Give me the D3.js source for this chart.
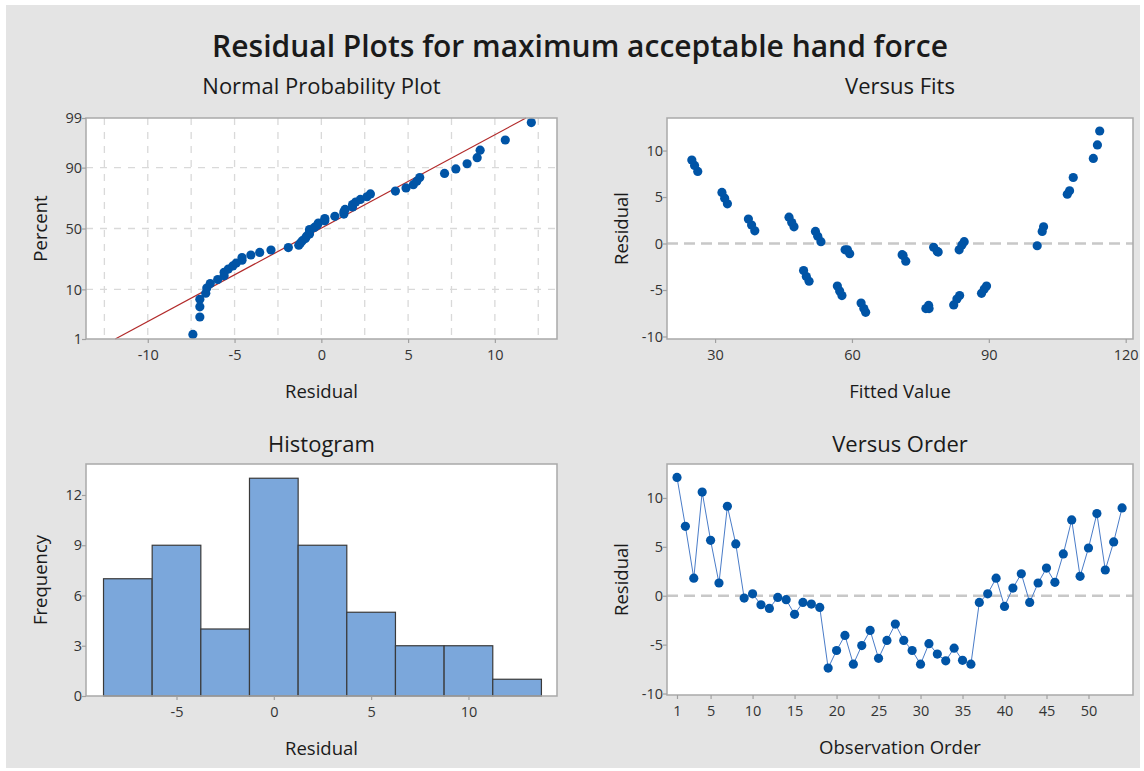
<!DOCTYPE html>
<html>
<head>
<meta charset="utf-8">
<script src="https://cdn.jsdelivr.net/npm/d3@7"></script>
<style>
  html, body { margin: 0; padding: 0; background: #fff; }
  svg { display: block; font-family: "Open Sans", "Noto Sans", sans-serif; }
</style>
</head>
<body>
<div id="chart"></div>
<script>
// residuals in observation order
const residuals = [12.1, 7.1, 1.8, 10.6, 5.67, 1.3, 9.15, 5.3, -0.24,
  0.2, -0.92, -1.3, -0.17, -0.4, -1.9, -0.68, -0.85, -1.2,
  -7.4, -5.6, -4.06, -7.0, -5.1, -3.55, -6.4, -4.57, -2.9,
  -4.57, -5.6, -7.0, -4.9, -5.97, -6.66, -5.36, -6.6, -7.0,
  -0.68, 0.2, 1.8, -1.09, 0.78, 2.25, -0.68, 1.3, 2.83,
  1.37, 4.27, 7.75, 1.98, 4.88, 8.4, 2.63, 5.5, 8.98];

// fitted values, same order
const fitted = [114.3, 108.5, 102.0, 113.8, 107.7, 101.7, 112.9, 107.2, 100.6,
  84.6, 78.9, 71.2, 84.1, 77.9, 71.8, 83.5, 78.7, 71.0,
  63.0, 57.8, 50.6, 62.6, 57.3, 50.0, 62.0, 56.8, 49.4,
  89.5, 83.6, 76.2, 89.0, 83.0, 76.8, 88.4, 82.3, 76.9,
  58.5, 53.2, 47.3, 59.5, 52.5, 46.8, 59.0, 52.0, 46.2,
  38.7, 32.7, 26.2, 38.0, 32.1, 25.5, 37.3, 31.5, 24.9];

const binEdges = [-8.75, -6.25, -3.75, -1.25, 1.25, 3.75, 6.25, 8.75, 11.25, 13.75];
const percentTicks = [1, 10, 50, 90, 99];
const percentGrid = [10, 50, 90];
const residTicks = [-10, -5, 0, 5, 10];
const histXTicks = [-5, 0, 5, 10];
const freqTicks = [0, 3, 6, 9, 12];
const fitTicks = [30, 60, 90, 120];
const orderTicks = [1, 5, 10, 15, 20, 25, 30, 35, 40, 45, 50];

const mainTitle = 'Residual Plots for maximum acceptable hand force';

const W = 1144, H = 771;
const dotColor = '#0054a6';
const plain = d => String(d); // hyphen minus like the original

// inverse normal cdf (Acklam)
function qnorm(p) {
  const a = [-39.69683028665376, 220.9460984245205, -275.9285104469687, 138.3577518672690, -30.66479806614716, 2.506628277459239];
  const b = [-54.47609879822406, 161.5858368580409, -155.6989798598866, 66.80131188771972, -13.28068155288572];
  const c = [-0.007784894002430293, -0.3223964580411365, -2.400758277161838, -2.549732539343734, 4.374664141464968, 2.938163982698783];
  const d = [0.007784695709041462, 0.3224671290700398, 2.445134137142996, 3.754408661907416];
  const pl = 0.02425;
  let q, r;
  if (p < pl) {
    q = Math.sqrt(-2 * Math.log(p));
    return (((((c[0]*q+c[1])*q+c[2])*q+c[3])*q+c[4])*q+c[5]) / ((((d[0]*q+d[1])*q+d[2])*q+d[3])*q+1);
  }
  if (p > 1 - pl) {
    q = Math.sqrt(-2 * Math.log(1 - p));
    return -(((((c[0]*q+c[1])*q+c[2])*q+c[3])*q+c[4])*q+c[5]) / ((((d[0]*q+d[1])*q+d[2])*q+d[3])*q+1);
  }
  q = p - 0.5; r = q * q;
  return (((((a[0]*r+a[1])*r+a[2])*r+a[3])*r+a[4])*r+a[5])*q / (((((b[0]*r+b[1])*r+b[2])*r+b[3])*r+b[4])*r+1);
}

const svg = d3.select('#chart').append('svg')
  .attr('width', W)
  .attr('height', H);

svg.append('rect')
  .attr('x', 6).attr('y', 5)
  .attr('width', 1134).attr('height', 763)
  .attr('fill', '#e4e4e4');

svg.append('text')
  .attr('x', 580).attr('y', 57)
  .attr('text-anchor', 'middle')
  .style('font-size', '30px')
  .style('font-weight', 600)
  .style('fill', '#1a1a1a')
  .text(mainTitle);

const boxes = {
  npp:   { x0: 86,  x1: 557,  y0: 118, y1: 339 },
  fits:  { x0: 667, x1: 1133, y0: 118, y1: 339 },
  hist:  { x0: 86,  x1: 557,  y0: 464, y1: 696 },
  order: { x0: 667, x1: 1133, y0: 464, y1: 695 }
};

function frame(b, title, titleY, xLabel, yLabel) {
  svg.append('rect')
    .attr('x', b.x0).attr('y', b.y0)
    .attr('width', b.x1 - b.x0).attr('height', b.y1 - b.y0)
    .attr('fill', '#fff');
  const cx = (b.x0 + b.x1) / 2;
  svg.append('text')
    .attr('x', cx).attr('y', titleY)
    .attr('text-anchor', 'middle')
    .style('font-size', '22px')
    .style('fill', '#1a1a1a')
    .text(title);
  svg.append('text')
    .attr('x', cx).attr('y', b.y1 + 59)
    .attr('text-anchor', 'middle')
    .style('font-size', '18.5px')
    .style('fill', '#1a1a1a')
    .text(xLabel);
  svg.append('text')
    .attr('transform', `translate(${b.x0 - 39},${(b.y0 + b.y1) / 2}) rotate(-90)`)
    .attr('text-anchor', 'middle')
    .style('font-size', '18.5px')
    .style('fill', '#1a1a1a')
    .text(yLabel);
}

function border(b) {
  svg.append('rect')
    .attr('x', b.x0).attr('y', b.y0)
    .attr('width', b.x1 - b.x0).attr('height', b.y1 - b.y0)
    .attr('fill', 'none')
    .attr('stroke', '#a9a9a9')
    .attr('stroke-width', 1.5);
}

function styleAxis(g) {
  g.select('.domain').remove();
  g.selectAll('.tick line').attr('stroke', '#a0a0a0').attr('stroke-width', 1.2);
  g.selectAll('.tick text')
    .style('font-size', '14.5px')
    .style('font-family', '"Open Sans", "Noto Sans", sans-serif')
    .attr('fill', '#333');
}

function axes(b, x, y, xt, yt) {
  svg.append('g')
    .attr('transform', `translate(0,${b.y1})`)
    .call(d3.axisBottom(x).tickValues(xt).tickSize(4).tickPadding(7).tickFormat(plain))
    .call(styleAxis);
  svg.append('g')
    .attr('transform', `translate(${b.x0},0)`)
    .call(d3.axisLeft(y).tickValues(yt).tickSize(4).tickPadding(0).tickFormat(plain))
    .call(styleAxis);
}

function zeroLine(b, y) {
  svg.append('line')
    .attr('x1', b.x0).attr('x2', b.x1)
    .attr('y1', y(0)).attr('y2', y(0))
    .attr('stroke', '#c8c8c8')
    .attr('stroke-width', 2.5)
    .attr('stroke-dasharray', '11,6');
}

// ---------- Normal Probability Plot ----------
{
  const b = boxes.npp;
  frame(b, 'Normal Probability Plot', 94, 'Residual', 'Percent');
  const x = d3.scaleLinear().domain([-13.56, 13.58]).range([b.x0, b.x1]);
  const y = d3.scaleLinear().domain([qnorm(0.01), qnorm(0.99)]).range([b.y1, b.y0]);

  svg.append('g').selectAll('line')
    .data(d3.range(-12.5, 12.6, 2.5))
    .enter().append('line')
    .attr('x1', d => x(d)).attr('x2', d => x(d))
    .attr('y1', b.y0).attr('y2', b.y1)
    .attr('stroke', '#d9d9d9').attr('stroke-width', 1.3)
    .attr('stroke-dasharray', '7,7');
  svg.append('g').selectAll('line')
    .data(percentGrid)
    .enter().append('line')
    .attr('x1', b.x0).attr('x2', b.x1)
    .attr('y1', d => y(qnorm(d / 100))).attr('y2', d => y(qnorm(d / 100)))
    .attr('stroke', '#d9d9d9').attr('stroke-width', 1.3)
    .attr('stroke-dasharray', '7,7');

  const mean = d3.mean(residuals);
  const sd = d3.deviation(residuals);
  svg.append('line')
    .attr('x1', x(mean + sd * qnorm(0.01))).attr('y1', y(qnorm(0.01)))
    .attr('x2', x(mean + sd * qnorm(0.99))).attr('y2', y(qnorm(0.99)))
    .attr('stroke', '#b22a2a')
    .attr('stroke-width', 1.2);

  const n = residuals.length;
  const sorted = residuals.slice().sort(d3.ascending);
  svg.append('g').selectAll('circle')
    .data(sorted)
    .enter().append('circle')
    .attr('cx', d => x(d))
    .attr('cy', (d, i) => y(qnorm((i + 1 - 0.3) / (n + 0.4))))
    .attr('r', 4.6)
    .attr('fill', dotColor);

  border(b);
  svg.append('g')
    .attr('transform', `translate(0,${b.y1})`)
    .call(d3.axisBottom(x).tickValues(residTicks).tickSize(4).tickPadding(7).tickFormat(plain))
    .call(styleAxis);
  svg.append('g')
    .attr('transform', `translate(${b.x0},0)`)
    .call(d3.axisLeft(y).tickValues(percentTicks.map(p => qnorm(p / 100))).tickSize(4).tickPadding(0)
      .tickFormat((d, i) => percentTicks[i]))
    .call(styleAxis);
}

// ---------- Versus Fits ----------
{
  const b = boxes.fits;
  frame(b, 'Versus Fits', 94, 'Fitted Value', 'Residual');
  const x = d3.scaleLinear().domain([19.46, 121.6]).range([b.x0, b.x1]);
  const y = d3.scaleLinear().domain([-10.27, 13.5]).range([b.y1, b.y0]);
  zeroLine(b, y);
  svg.append('g').selectAll('circle')
    .data(fitted)
    .enter().append('circle')
    .attr('cx', d => x(d))
    .attr('cy', (d, i) => y(residuals[i]))
    .attr('r', 4.6)
    .attr('fill', dotColor);
  border(b);
  axes(b, x, y, fitTicks, residTicks);
}

// ---------- Histogram ----------
{
  const b = boxes.hist;
  frame(b, 'Histogram', 452, 'Residual', 'Frequency');
  const x = d3.scaleLinear().domain([-9.65, 14.55]).range([b.x0, b.x1]);
  const y = d3.scaleLinear().domain([0, 13.85]).range([b.y1, b.y0]);
  const bins = d3.bin()
    .domain([binEdges[0], binEdges[binEdges.length - 1]])
    .thresholds(binEdges.slice(1, -1))(residuals);
  svg.append('g').selectAll('rect')
    .data(bins)
    .enter().append('rect')
    .attr('x', d => x(d.x0))
    .attr('y', d => y(d.length))
    .attr('width', d => x(d.x1) - x(d.x0))
    .attr('height', d => y(0) - y(d.length))
    .attr('fill', '#7ba7db')
    .attr('stroke', '#3a3a3a')
    .attr('stroke-width', 1.2);
  border(b);
  axes(b, x, y, histXTicks, freqTicks);
}

// ---------- Versus Order ----------
{
  const b = boxes.order;
  frame(b, 'Versus Order', 452, 'Observation Order', 'Residual');
  const x = d3.scaleLinear().domain([-0.19, 55.3]).range([b.x0, b.x1]);
  const y = d3.scaleLinear().domain([-10.15, 13.47]).range([b.y1, b.y0]);
  zeroLine(b, y);
  const line = d3.line()
    .x((d, i) => x(i + 1))
    .y(d => y(d));
  svg.append('path')
    .datum(residuals)
    .attr('d', line)
    .attr('fill', 'none')
    .attr('stroke', '#4a7cc8')
    .attr('stroke-width', 1);
  svg.append('g').selectAll('circle')
    .data(residuals)
    .enter().append('circle')
    .attr('cx', (d, i) => x(i + 1))
    .attr('cy', d => y(d))
    .attr('r', 4.6)
    .attr('fill', dotColor);
  border(b);
  axes(b, x, y, orderTicks, residTicks);
}
</script>
</body>
</html>
